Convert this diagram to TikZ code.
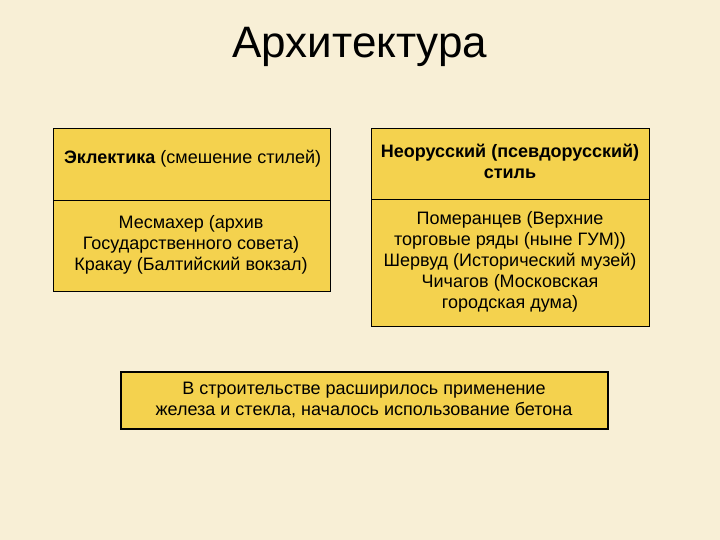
\documentclass[tikz,border=0pt]{standalone}
\usepackage{fontspec}
\setmainfont{Liberation Sans}
\begin{document}
\begin{tikzpicture}[x=1pt,y=-1pt,
  cell/.style={draw=black,line width=0.8pt,fill=boxy,inner sep=0pt},
  txt/.style={align=center,font=\fontsize{18}{21}\selectfont}]
\definecolor{bg}{HTML}{F8EFD6}
\definecolor{boxy}{HTML}{F4D24E}
\fill[bg] (0,0) rectangle (720,540);
\useasboundingbox (0,0) rectangle (720,540);
\node (title) at (360,47) {\fontsize{44}{50}\selectfont Архитектура};
\draw[cell] (53,128) rectangle (330,200);
\draw[cell] (53,200) rectangle (330,291);
\draw[cell] (371,128) rectangle (649,199);
\draw[cell] (371,199) rectangle (649,326);
\node[txt,anchor=west,inner sep=0pt] (l1) at (64,159) {\textbf{Эклектика} (смешение стилей)};
\node[txt] (l2) at (191,245) {Месмахер (архив\\Государственного совета)\\Кракау (Балтийский вокзал)};
\node[txt,font=\bfseries\fontsize{18}{21}\selectfont] (r1) at (510,161) {Неорусский (псевдорусский)\\стиль};
\node[txt] (r2) at (510,262) {Померанцев (Верхние\\торговые ряды (ныне ГУМ))\\Шервуд (Исторический музей)\\Чичагов (Московская\\городская дума)};
\draw[fill=boxy,draw=black,line width=2.5pt] (121,372) rectangle (608,429);
\node[txt] (b) at (364,400) {В строительстве расширилось применение\\железа и стекла, началось использование бетона};
\end{tikzpicture}
\end{document}
